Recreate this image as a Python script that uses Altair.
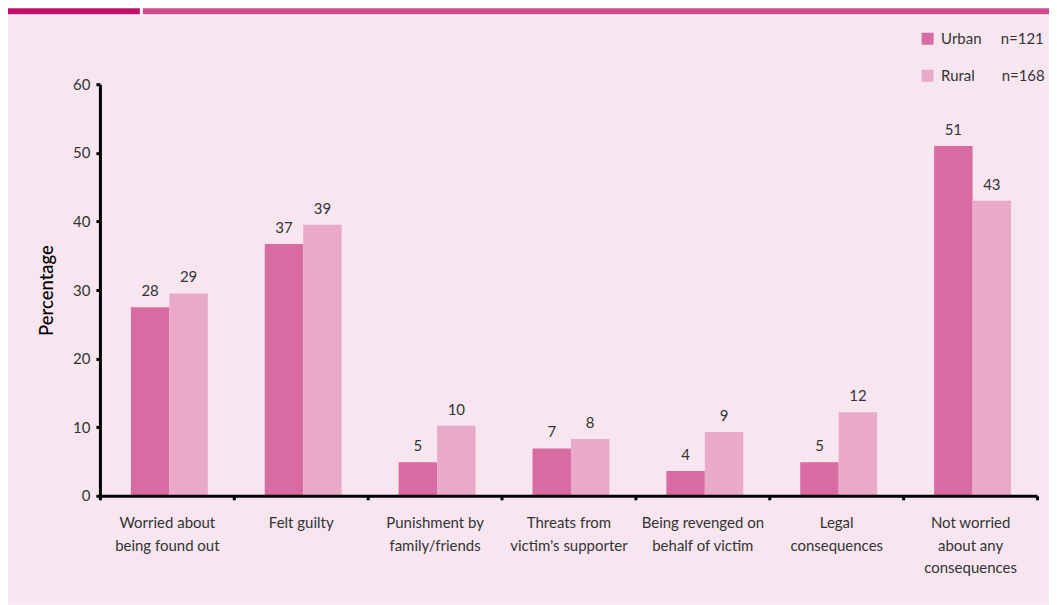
import altair as alt
import pandas as pd

categories = [
    "Worried about\nbeing found out",
    "Felt guilty",
    "Punishment by\nfamily/friends",
    "Threats from\nvictim's supporter",
    "Being revenged on\nbehalf of victim",
    "Legal\nconsequences",
    "Not worried\nabout any\nconsequences",
]
urban_values = [27.5, 36.7, 4.9, 6.9, 3.6, 4.9, 51.0]
rural_values = [29.5, 39.5, 10.2, 8.3, 9.3, 12.2, 43.0]
urban_labels = [28, 37, 5, 7, 4, 5, 51]
rural_labels = [29, 39, 10, 8, 9, 12, 43]
series = ["Urban", "Rural"]
series_n = {"Urban": "n=121", "Rural": "n=168"}
colors = ["#d96ba3", "#e9aaca"]
y_ticks = [0, 10, 20, 30, 40, 50, 60]

rows = []
for i, c in enumerate(categories):
    rows.append({"cat": c, "group": "Urban", "value": urban_values[i], "label": str(urban_labels[i])})
    rows.append({"cat": c, "group": "Rural", "value": rural_values[i], "label": str(rural_labels[i])})
df = pd.DataFrame(rows)

FONT = "Lato"
TXT = "#333333"
one = pd.DataFrame({"a": [0]})

bg = alt.Chart(one).mark_rect(color="#f7e6f0").encode(
    x=alt.value(-92), x2=alt.value(950), y=alt.value(-69), y2=alt.value(521)
)
strip1 = alt.Chart(one).mark_rect(color="#c0106a").encode(
    x=alt.value(-92), x2=alt.value(40), y=alt.value(-76), y2=alt.value(-70)
)
strip2 = alt.Chart(one).mark_rect(color="#d04a8e").encode(
    x=alt.value(43), x2=alt.value(950), y=alt.value(-76), y2=alt.value(-70)
)

x_enc = alt.X(
    "cat:N",
    sort=categories,
    scale=alt.Scale(paddingInner=0, paddingOuter=0),
    axis=alt.Axis(
        title=None,
        labelAngle=0,
        tickBand="extent",
        labelExpr="isValid(datum.value) ? split(datum.value, '\\n') : ''",
        labelFontSize=15,
        labelLineHeight=22.5,
        labelPadding=16,
        labelColor=TXT,
        labelFont=FONT,
        labelLimit=200,
        domainColor="black",
        domainWidth=3,
        tickColor="black",
        tickWidth=3,
        tickSize=4,
        zindex=2,
    ),
)
xo_enc = alt.XOffset(
    "group:N",
    sort=series,
    scale=alt.Scale(domain=series, paddingOuter=0.74, paddingInner=0, align=0.544),
)
y_enc = alt.Y(
    "value:Q",
    scale=alt.Scale(domain=[0, 60], nice=False),
    axis=alt.Axis(
        values=y_ticks,
        title="Percentage",
        titleFontSize=18.5,
        titleFontWeight=500,
        titleColor="black",
        titleFont=FONT,
        titlePadding=16,
        labelFontSize=15,
        labelColor=TXT,
        labelFont=FONT,
        labelPadding=6,
        grid=False,
        domainColor="black",
        domainWidth=3,
        tickColor="black",
        tickWidth=3,
        tickSize=4,
        zindex=2,
    ),
)

legend_expr = (
    "datum.label == 'Urban' ? 'Urban" + "\u00a0" * 5 + series_n["Urban"]
    + "' : 'Rural" + "\u00a0" * 7 + series_n["Rural"] + "'"
)

bars = alt.Chart(df).mark_bar().encode(
    x=x_enc,
    xOffset=xo_enc,
    y=y_enc,
    color=alt.Color(
        "group:N",
        sort=series,
        scale=alt.Scale(domain=series, range=colors),
        legend=alt.Legend(
            title=None,
            orient="none",
            legendX=821,
            legendY=-53,
            symbolType="square",
            symbolSize=144,
            symbolStrokeWidth=0,
            symbolOpacity=1,
            labelFontSize=15,
            labelFont=FONT,
            labelColor=TXT,
            labelOffset=6,
            rowPadding=21,
            labelExpr=legend_expr,
        ),
    ),
)

texts = alt.Chart(df).mark_text(
    baseline="alphabetic", dy=-11, fontSize=15, font=FONT, color=TXT
).encode(
    x=alt.X("cat:N", sort=categories),
    xOffset=alt.XOffset("group:N", sort=series),
    y=alt.Y("value:Q"),
    text="label:N",
)

chart = (
    alt.layer(bg, strip1, strip2, bars, texts)
    .properties(
        width=938,
        height=412,
        autosize=alt.AutoSizeParams(type="none"),
        padding={"left": 92, "top": 76, "right": 12, "bottom": 109},
    )
    .configure(background="white")
    .configure_view(stroke=None)
)

chart.save("out.html", embed_options={"renderer": "svg", "actions": False})
